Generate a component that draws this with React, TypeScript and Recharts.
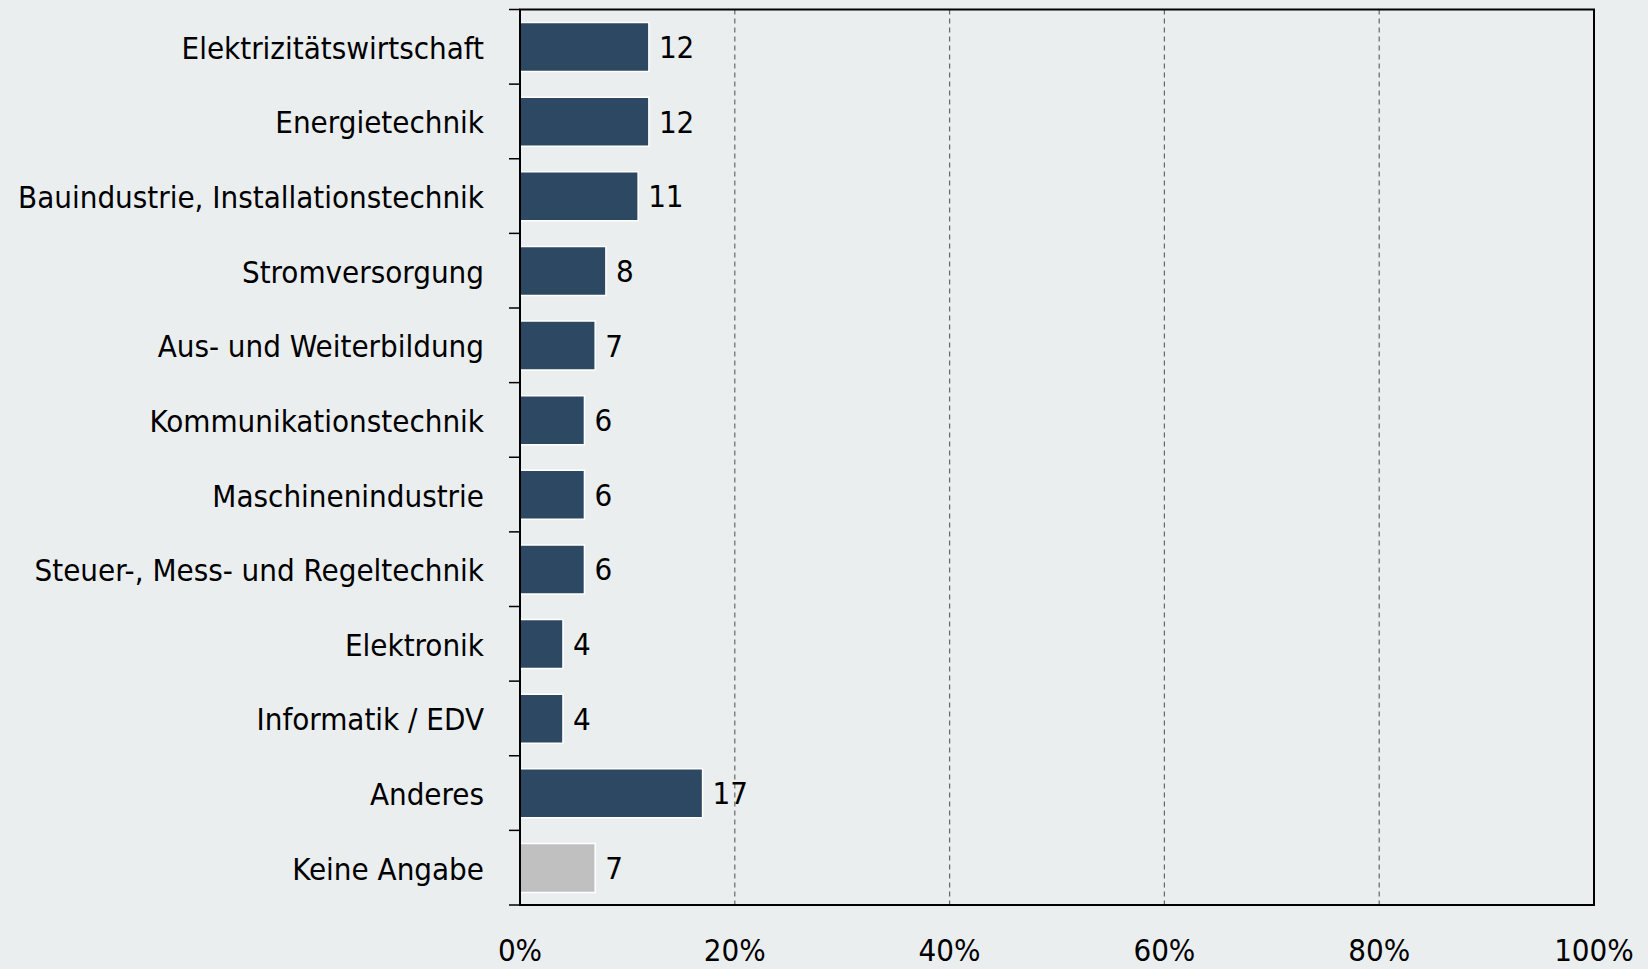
import React from 'react';
import { BarChart, Bar, XAxis, YAxis, CartesianGrid, Cell, LabelList, ReferenceArea } from 'recharts';

const categories = [
  'Elektrizitätswirtschaft',
  'Energietechnik',
  'Bauindustrie, Installationstechnik',
  'Stromversorgung',
  'Aus- und Weiterbildung',
  'Kommunikationstechnik',
  'Maschinenindustrie',
  'Steuer-, Mess- und Regeltechnik',
  'Elektronik',
  'Informatik / EDV',
  'Anderes',
  'Keine Angabe',
];
const shares = [12, 12, 11, 8, 7, 6, 6, 6, 4, 4, 17, 7];
const NAVY = '#2c4863';
const GRAY = '#c0c0c0';
const barColors = [NAVY, NAVY, NAVY, NAVY, NAVY, NAVY, NAVY, NAVY, NAVY, NAVY, NAVY, GRAY];
const xTicks = [0, 20, 40, 60, 80, 100];

const data = categories.map((name, i) => ({ name, value: shares[i], color: barColors[i] }));

const FONT = "'DejaVu Sans Condensed', 'DejaVu Sans', sans-serif";
const FS = 31;
const BG = '#eaeeef';

const YTick = (props: any) => {
  const { x, y, payload, index } = props;
  const half = payload && payload.offset ? payload.offset : 37.3;
  return (
    <g>
      <line x1={x - 11} x2={x} y1={y - half} y2={y - half} stroke="#000" strokeWidth={1.5} />
      {index === categories.length - 1 && (
        <line x1={x - 11} x2={x} y1={y + half} y2={y + half} stroke="#000" strokeWidth={1.5} />
      )}
      <text x={x - 36} y={y + 1} textAnchor="end" dominantBaseline="central" fontSize={FS} fontFamily={FONT} fill="#000">
        {payload.value}
      </text>
    </g>
  );
};

const XTick = (props: any) => {
  const { x, y, payload } = props;
  return (
    <text x={x} y={y + 45} textAnchor="middle" dominantBaseline="central" fontSize={FS} fontFamily={FONT} fill="#000">
      {`${payload.value}%`}
    </text>
  );
};

export default function App() {
  return (
    <div style={{ position: 'absolute', left: 0, top: 0, width: 1648, height: 969, background: BG }}>
      <BarChart
        width={1648}
        height={969}
        data={data}
        layout="vertical"
        margin={{ top: 9.5, right: 54, left: 0, bottom: 0 }}
      >
        <CartesianGrid horizontal={false} vertical={true} stroke="#666" strokeDasharray="5 4" strokeWidth={1.2} />
        <XAxis
          type="number"
          domain={[0, 100]}
          ticks={xTicks}
          height={64}
          tickSize={0}
          tickMargin={0}
          tickLine={false}
          axisLine={{ stroke: '#000', strokeWidth: 2 }}
          tick={<XTick />}
          interval={0}
        />
        <YAxis
          type="category"
          dataKey="name"
          width={520}
          tickSize={0}
          tickMargin={0}
          tickLine={false}
          axisLine={{ stroke: '#000', strokeWidth: 2 }}
          tick={<YTick />}
          interval={0}
        />
        <ReferenceArea x1={0} x2={100} fill="none" fillOpacity={0} stroke="#000" strokeWidth={2} ifOverflow="visible" />
        <Bar dataKey="value" barSize={49} stroke="#fff" strokeWidth={1.5} isAnimationActive={false}>
          {data.map((d, i) => (
            <Cell key={i} fill={d.color} />
          ))}
          <LabelList dataKey="value" position="right" offset={10} fontSize={FS} fontFamily={FONT} fill="#000" />
        </Bar>
      </BarChart>
    </div>
  );
}
